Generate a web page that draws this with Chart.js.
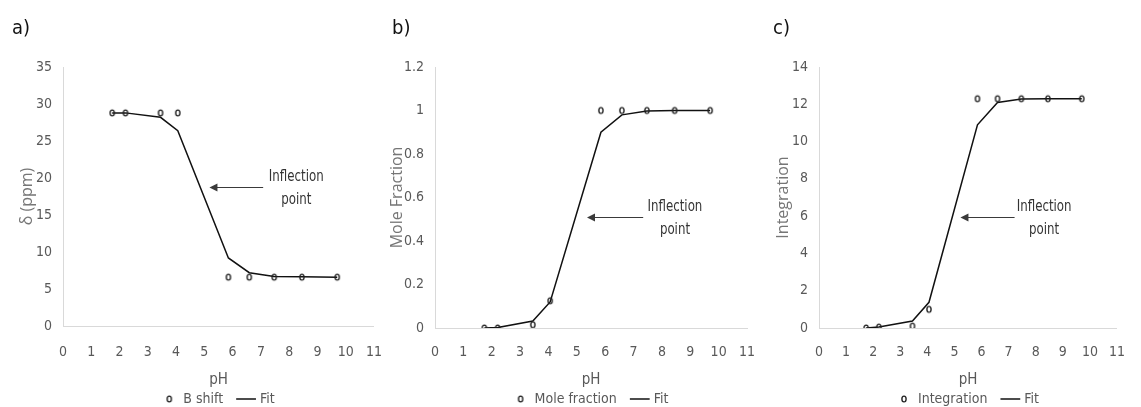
<!DOCTYPE html>
<html>
<head>
<meta charset="utf-8">
<title>pH titration curves</title>
<script src="https://cdn.jsdelivr.net/npm/chart.js@4.4.1/dist/chart.umd.min.js"></script>
<style>
  html, body { margin: 0; padding: 0; background: #fff; overflow: hidden; }
  #wrap { position: relative; width: 1141px; height: 407px; overflow: hidden; }
  .panel { position: absolute; top: 0; }
  .panel canvas { display: block; }
  .tag { position: absolute; top: 16px; font: 20px/22px 'Liberation Sans Narrow', 'DejaVu Sans Condensed', sans-serif; color: #111; }
</style>
</head>
<body>
<div id="wrap">
  <div class="panel" style="left:0px"><canvas id="chartA" width="400" height="416"></canvas></div>
  <div class="panel" style="left:380px"><canvas id="chartB" width="400" height="416"></canvas></div>
  <div class="panel" style="left:760px"><canvas id="chartC" width="381" height="416"></canvas></div>
  <div class="tag" style="left:12px">a)</div>
  <div class="tag" style="left:392px">b)</div>
  <div class="tag" style="left:773px">c)</div>
</div>
<script>
// measured pH values (same for all three panels)
const pH = [1.74, 2.21, 3.45, 4.06, 5.85, 6.59, 7.47, 8.45, 9.7];

// a) boron chemical shift
const bShift = [28.8, 28.8, 28.8, 28.8, 6.6, 6.6, 6.6, 6.6, 6.6];
const bShiftFit = [28.8, 28.8, 28.2, 26.4, 9.2, 7.2, 6.7, 6.65, 6.6];

// b) mole fraction
const moleFraction = [0, 0, 0.015, 0.125, 1, 1, 1, 1, 1];
const moleFractionFit = [0, 0.002, 0.032, 0.12, 0.9, 0.98, 0.998, 1, 1];

// c) integration
const integration = [0, 0.05, 0.1, 1.0, 12.3, 12.3, 12.3, 12.3, 12.3];
const integrationFit = [0, 0.05, 0.37, 1.38, 10.9, 12.1, 12.28, 12.3, 12.3];

// tick values
const xTicks = [0, 1, 2, 3, 4, 5, 6, 7, 8, 9, 10, 11];
const yTicksA = [0, 5, 10, 15, 20, 25, 30, 35];
const yTicksB = [0, 0.2, 0.4, 0.6, 0.8, 1, 1.2];
const yTicksC = [0, 2, 4, 6, 8, 10, 12, 14];

const NARROW = "'Liberation Sans Narrow', 'DejaVu Sans Condensed', sans-serif";
const WIDE = "'Open Sans', 'Noto Sans', sans-serif";
const CANVAS_H = 416;
const LEGEND_PAD = 16;
const LEGEND_FONT = 14;
const LEGEND_H = LEGEND_FONT + LEGEND_PAD + 10;

// hollow oval marker for the measured points (also shown in the legend)
function ovalMarker() {
  const c = document.createElement('canvas');
  c.width = 8; c.height = 10;
  const g = c.getContext('2d');
  g.strokeStyle = '#222';
  g.lineWidth = 1.4;
  g.beginPath();
  g.ellipse(4, 5, 2.1, 2.9, 0, 0, Math.PI * 2);
  g.stroke();
  return c;
}
const oval = ovalMarker();

const pointsOf = ys => pH.map((x, i) => ({ x: x, y: ys[i] }));
const useTicks = list => scale => { scale.ticks = list.map(v => ({ value: v })); };

// arrow plus two-line caption, positioned in data units
const calloutPlugin = {
  id: 'callout',
  afterDatasetsDraw(chart, args, opts) {
    const xs = chart.scales.x, ys = chart.scales.y;
    const ctx = chart.ctx;
    const hx = xs.getPixelForValue(opts.head);
    const tx = xs.getPixelForValue(opts.tail);
    const lx = xs.getPixelForValue(opts.label);
    const py = Math.round(ys.getPixelForValue(opts.at)) + 0.5;
    ctx.save();
    ctx.strokeStyle = '#3a3a3a';
    ctx.fillStyle = '#3a3a3a';
    ctx.lineWidth = 1.2;
    ctx.beginPath();
    ctx.moveTo(tx, py);
    ctx.lineTo(hx + 6, py);
    ctx.stroke();
    ctx.beginPath();
    ctx.moveTo(hx, py);
    ctx.lineTo(hx + 8, py - 4);
    ctx.lineTo(hx + 8, py + 4);
    ctx.closePath();
    ctx.fill();
    // caption in a condensed setting
    ctx.translate(lx, py);
    ctx.scale(0.82, 1);
    ctx.font = '16px ' + NARROW;
    ctx.fillStyle = '#333';
    ctx.textAlign = 'center';
    ctx.textBaseline = 'middle';
    ctx.fillText(opts.lines[0], 0, -11);
    ctx.fillText(opts.lines[1], 0, 12);
    ctx.restore();
  }
};

function makeChart(id, p) {
  const xTickPad = Math.round(352 - p.areaBottom - 8.4);
  return new Chart(document.getElementById(id), {
    type: 'scatter',
    data: {
      datasets: [
        {
          label: p.label,
          data: pointsOf(p.points),
          pointStyle: oval,
          pointRadius: 3,
          pointHoverRadius: 3,
          borderColor: '#222',
          backgroundColor: 'rgba(0,0,0,0)'
        },
        {
          label: 'Fit',
          data: pointsOf(p.fit),
          showLine: true,
          pointRadius: 0,
          pointHoverRadius: 0,
          pointStyle: 'line',
          borderColor: '#111',
          borderWidth: 1.5,
          backgroundColor: '#111'
        }
      ]
    },
    options: {
      responsive: false,
      animation: false,
      events: [],
      layout: { padding: { left: 0, right: p.padRight, top: 67, bottom: 0 } },
      scales: {
        x: {
          type: 'linear',
          min: 0,
          max: 11,
          afterBuildTicks: useTicks(xTicks),
          afterFit: s => { s.height = CANVAS_H - LEGEND_H - p.areaBottom; },
          grid: { display: false, drawTicks: false },
          border: { display: true, color: '#d9d9d9', width: 1 },
          ticks: { padding: xTickPad, color: '#595959', font: { family: NARROW, size: 14 } },
          title: {
            display: true, text: 'pH', color: '#595959',
            font: { family: NARROW, size: 15 },
            padding: { top: 0, bottom: -13 }
          }
        },
        y: {
          type: 'linear',
          min: 0,
          max: p.yMax,
          afterBuildTicks: useTicks(p.yTicks),
          afterFit: s => { s.width = p.yWidth; },
          grid: { display: false, drawTicks: false },
          border: { display: true, color: '#d9d9d9', width: 1 },
          ticks: { padding: 11, color: '#595959', font: { family: NARROW, size: 14 }, callback: v => String(v) },
          title: {
            display: true, text: p.yTitle, color: '#767676',
            font: { family: WIDE, size: 16 },
            padding: { top: p.yTitlePad, bottom: 0 }
          }
        }
      },
      plugins: {
        legend: {
          position: 'bottom',
          fullSize: false,
          labels: {
            usePointStyle: true,
            boxHeight: 14,
            padding: LEGEND_PAD,
            color: '#595959',
            font: { family: NARROW, size: LEGEND_FONT }
          }
        },
        tooltip: { enabled: false },
        callout: p.callout
      }
    },
    plugins: [calloutPlugin]
  });
}

makeChart('chartA', {
  label: 'B shift', points: bShift, fit: bShiftFit,
  yMax: 35, yTicks: yTicksA, yTitle: 'δ (ppm)',
  yWidth: 63, yTitlePad: 17.4, padRight: 20.5, areaBottom: 326,
  callout: { head: 5.18, tail: 7.08, label: 8.25, at: 18.8, lines: ['Inflection', 'point'] }
});

makeChart('chartB', {
  label: 'Mole fraction', points: moleFraction, fit: moleFractionFit,
  yMax: 1.2, yTicks: yTicksB, yTitle: 'Mole Fraction',
  yWidth: 55, yTitlePad: 7.9, padRight: 33, areaBottom: 328,
  callout: { head: 5.36, tail: 7.34, label: 8.46, at: 0.512, lines: ['Inflection', 'point'] }
});

makeChart('chartC', {
  label: 'Integration', points: integration, fit: integrationFit,
  yMax: 14, yTicks: yTicksC, yTitle: 'Integration',
  yWidth: 59, yTitlePad: 14.2, padRight: 11, areaBottom: 328,
  callout: { head: 5.22, tail: 7.22, label: 8.31, at: 5.97, lines: ['Inflection', 'point'] }
});
</script>
</body>
</html>
